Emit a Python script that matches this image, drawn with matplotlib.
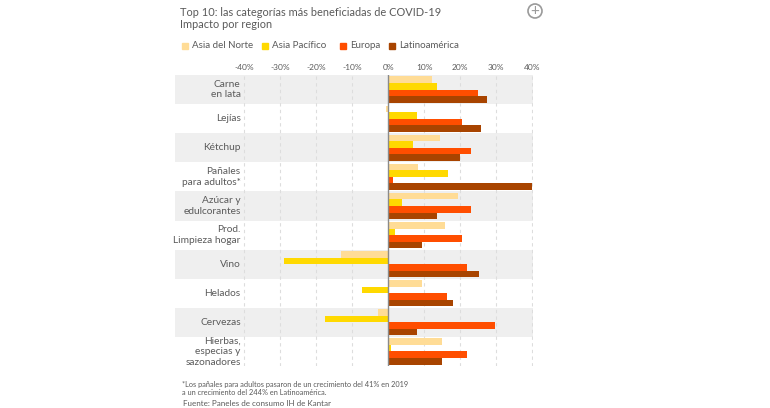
import numpy as np
import matplotlib.pyplot as plt
from matplotlib.patches import Circle

# Datos
categorias = ["Carne\nen lata", "Lejías", "Kétchup", "Pañales\npara adultos*",
              "Azúcar y\nedulcorantes", "Prod.\nLimpieza hogar", "Vino",
              "Helados", "Cervezas", "Hierbas,\nespecias y\nsazonadores"]
series = ["Asia del Norte", "Asia Pacífico", "Europa", "Latinoamérica"]
asia_norte = [12.2, -0.6, 14.5, 8.4, 19.5, 15.7, -13.1, 9.4, -2.7, 14.9]
asia_pacifico = [13.5, 8.1, 6.8, 16.5, 3.9, 2.0, -28.9, -7.1, -17.4, 0.9]
europa = [24.9, 20.6, 23.0, 1.3, 23.0, 20.5, 22.0, 16.4, 29.7, 22.0]
latam = [27.5, 25.8, 20.0, 40.0, 13.5, 9.4, 25.1, 18.0, 8.0, 14.9]
ticks = [-40, -30, -20, -10, 0, 10, 20, 30, 40]

colores = ["#FFDC96", "#FFD900", "#FF4E00", "#A84400"]
gris_txt = "#5a5a5a"

plt.rcParams['font.family'] = ['Lato', 'DejaVu Sans']

fig = plt.figure(figsize=(7.7, 4.08), dpi=100)
ax = fig.add_axes([0.2273, 0.1029, 0.4649, 0.7132])

n = len(categorias)
y = np.arange(n)

# Bandas alternas
for i in range(n):
    if i % 2 == 0:
        ax.axhspan(i - 0.5, i + 0.5, color="#efefef", lw=0, zorder=0)

# Rejilla
for t in ticks:
    if t != 0:
        ax.axvline(t, color="#dddddd", lw=0.8, ls=(0, (3, 3)), zorder=1)

h = 0.225
datos = [asia_norte, asia_pacifico, europa, latam]
for k, (vals, col) in enumerate(zip(datos, colores)):
    ax.barh(y + (k - 1.5) * h, vals, height=h, color=col, lw=0, zorder=2)

ax.axvline(0, color="#8a8a8a", lw=1.0, zorder=3)

# Etiquetas de categoria
for i, c in enumerate(categorias):
    ax.text(-40.9, i, c, ha="right", va="center", fontsize=7.3,
            color=gris_txt, linespacing=1.22)

ax.set_xlim(-59.1, 40.2)
ax.set_ylim(n - 0.5, -0.5)
ax.xaxis.tick_top()
ax.set_xticks(ticks)
ax.set_xticklabels([f"{t}%" for t in ticks], fontsize=6, color=gris_txt)
ax.tick_params(axis="x", length=0, pad=3)
ax.set_yticks([])
for s in ax.spines.values():
    s.set_visible(False)

# Titulo
fig.text(180 / 770, 1 - 12 / 408, "Top 10: las categorías más beneficiadas de COVID-19",
         fontsize=7.9, color=gris_txt, va="center")
fig.text(180 / 770, 1 - 24.5 / 408, "Impacto por region",
         fontsize=7.9, color=gris_txt, va="center")

# Leyenda
xl = [182, 262, 340, 389]
for x0, s, col in zip(xl, series, colores):
    fig.patches.append(plt.Rectangle((x0 / 770, 1 - 48.5 / 408), 6 / 770, 6 / 408,
                                     transform=fig.transFigure, color=col))
    fig.text((x0 + 10) / 770, 1 - 45.5 / 408, s, fontsize=7, color=gris_txt, va="center")

# Icono mas
cx, cy = 535 / 770, 1 - 11 / 408
fig.patches.append(Circle((535, 408 - 11), 7, transform=None, fill=False,
                          ec="#9a9a9a", lw=1.2))
fig.text(cx, cy, "+", ha="center", va="center", fontsize=11, color="#9a9a9a")

# Notas
fig.text(182 / 770, 1 - 388.5 / 408,
         "*Los pañales para adultos pasaron de un crecimiento del 41% en 2019\n"
         "a un crecimiento del 244% en Latinoamérica.",
         fontsize=5.3, color=gris_txt, va="center", linespacing=1.2)
fig.text(183 / 770, 1 - 403 / 408, "Fuente: Paneles de consumo IH de Kantar",
         fontsize=5.8, color=gris_txt, va="center")

fig.savefig("out.png", dpi=100, facecolor="white")
